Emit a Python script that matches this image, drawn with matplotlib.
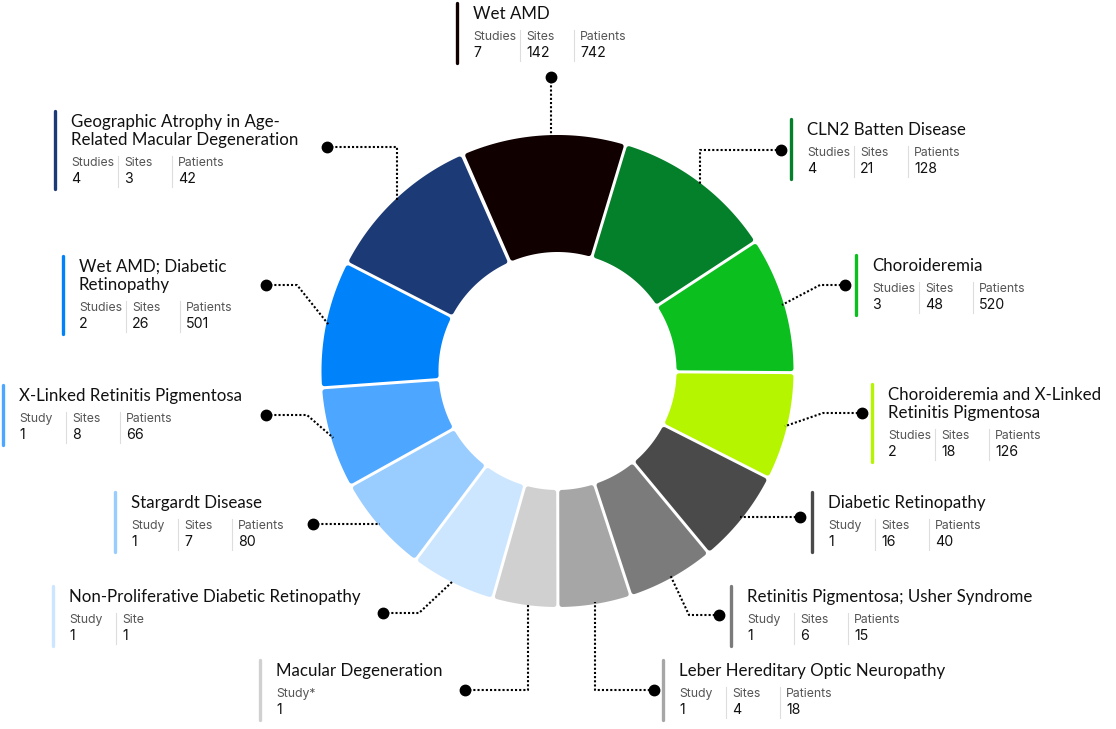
import numpy as np
import matplotlib

matplotlib.use('Agg')

import matplotlib.pyplot as plt
from matplotlib.patches import Polygon

# --- data, clockwise from the top ---
names = ["Wet AMD", "CLN2 Batten Disease", "Choroideremia",
         "Choroideremia and X-Linked\nRetinitis Pigmentosa", "Diabetic Retinopathy",
         "Retinitis Pigmentosa; Usher Syndrome", "Leber Hereditary Optic Neuropathy",
         "Macular Degeneration", "Non-Proliferative Diabetic Retinopathy",
         "Stargardt Disease", "X-Linked Retinitis Pigmentosa",
         "Wet AMD; Diabetic\nRetinopathy", "Geographic Atrophy in Age-\nRelated Macular Degeneration"]
studies = [7, 4, 3, 2, 1, 1, 1, 1, 1, 1, 1, 2, 4]
sites = [142, 21, 48, 18, 16, 6, 4, None, 1, 7, 8, 26, 3]
patients = [742, 128, 520, 126, 40, 15, 18, None, None, 80, 66, 501, 42]
study_note = ["", "", "", "", "", "", "", "*", "", "", "", "", ""]
# angular share of each segment (degrees)
shares = [40.4, 40.0, 33.6, 26.5, 23.4, 21.6, 18.0, 16.0, 21.0, 24.0, 25.0, 31.3, 39.0]
colors = ["#110000", "#047f2a", "#0bbf1f", "#b5f500", "#4a4a4a", "#7b7b7b", "#a6a6a6",
          "#d0d0d0", "#cce6ff", "#99ccff", "#4da6ff", "#0082fb", "#1c3a75"]

# --- layout (pixel coords) ---
text_pos = [(473, 14), (807, 130), (872, 266), (888, 395), (828, 503), (747, 597),
            (679, 671), (276, 671), (69, 597), (131, 503), (19, 396), (79, 267), (71, 122)]
dots = [(551, 77), (781, 150), (845, 285), (862, 413), (800, 517), (719, 615),
        (654, 690), (465, 690), (383, 613), (313, 524), (266, 415), (266, 285), (327, 147)]
# connector: 'v' = go to elbow x then vertical, 'h' = straight horizontal, 'd' = elbow then diagonal
conn = [('v', 551), ('v', 700), ('d', 820), ('d', 823), ('h', None), ('d', 689),
        ('v', 595), ('v', 528), ('d', 419), ('h', None), ('d', 307), ('d', 297), ('v', 397)]

cx, cy = 557.5, 371
R, r = 236, 119
start = -23.6
gap, corner = 3.0, 2.5

W, H = 1116, 729
fig = plt.figure(figsize=(W / 100, H / 100), dpi=100)
ax = fig.add_axes([0, 0, 1, 1])
ax.set_xlim(0, W)
ax.set_ylim(H, 0)
ax.axis('off')

title_font = ['Lato', 'DejaVu Sans']
stat_font = ['Inter', 'DejaVu Sans']


def pt(rad, ang):
    a = np.radians(ang)
    return cx + rad * np.sin(a), cy - rad * np.cos(a)


edges = start + np.concatenate([[0], np.cumsum(shares)])
mids = (edges[:-1] + edges[1:]) / 2

# ring segments with rounded corners
d = gap / 2 + corner
Ro, Ri = R - corner, r + corner
for i in range(len(names)):
    a0, a1 = edges[i], edges[i + 1]
    do = np.degrees(np.arcsin(d / Ro))
    di = np.degrees(np.arcsin(d / Ri))
    outer = [pt(Ro, a) for a in np.linspace(a0 + do, a1 - do, 80)]
    inner = [pt(Ri, a) for a in np.linspace(a1 - di, a0 + di, 60)]
    ax.add_patch(Polygon(outer + inner, closed=True, facecolor=colors[i], edgecolor=colors[i],
                         linewidth=2 * corner * 0.72, joinstyle='round', zorder=2))

# connectors
Rc = R - 2
for i in range(len(names)):
    dx, dy = dots[i]
    kind, ex = conn[i]
    if kind == 'v':
        sgn = -1 if dy < cy else 1
        ey = cy + sgn * np.sqrt(Rc ** 2 - (ex - cx) ** 2)
        xs, ys = [dx, ex, ex], [dy, dy, ey]
    elif kind == 'h':
        sgn = -1 if dx < cx else 1
        xs, ys = [dx, cx + sgn * np.sqrt(Rc ** 2 - (dy - cy) ** 2)], [dy, dy]
    else:
        px, py = pt(Rc, mids[i])
        xs, ys = [dx, ex, px], [dy, dy, py]
    ax.plot(xs, ys, color='black', lw=1.5, linestyle=(0, (1, 1)), zorder=3,
            solid_capstyle='butt', dash_capstyle='butt')
    ax.plot(dx, dy, 'o', color='black', ms=7.5, zorder=4)

# callout boxes
col_off = [0, 53, 107]
for i, name in enumerate(names):
    tx, ty = text_pos[i]
    lines = name.split("\n")
    for k, line in enumerate(lines):
        ax.text(tx, ty + 18 * k, line, fontsize=12.2, family=title_font, color='#111111',
                va='center', ha='left')
    ly = ty + 18 * (len(lines) - 1) + 23
    vy = ly + 16
    cols = [[("Studies" if studies[i] > 1 else "Study") + study_note[i], studies[i]]]
    if sites[i] is not None:
        cols.append(["Sites" if sites[i] > 1 else "Site", sites[i]])
    if patients[i] is not None:
        cols.append(["Patients", patients[i]])
    for j, (lab, val) in enumerate(cols):
        x = tx + col_off[j]
        ax.text(x, ly, lab, fontsize=8.8, family=stat_font, color='#555555', va='center', ha='left')
        ax.text(x, vy, str(val), fontsize=10.2, family=stat_font, color='#111111', va='center', ha='left')
        if j > 0:
            ax.plot([x - 6, x - 6], [ly - 7, vy + 8], color='#dddddd', lw=0.8)
    ax.plot([tx - 16, tx - 16], [ty - 11, vy + 10], color=colors[i], lw=2.4,
            solid_capstyle='round')

fig.savefig("out.png", dpi=100)
